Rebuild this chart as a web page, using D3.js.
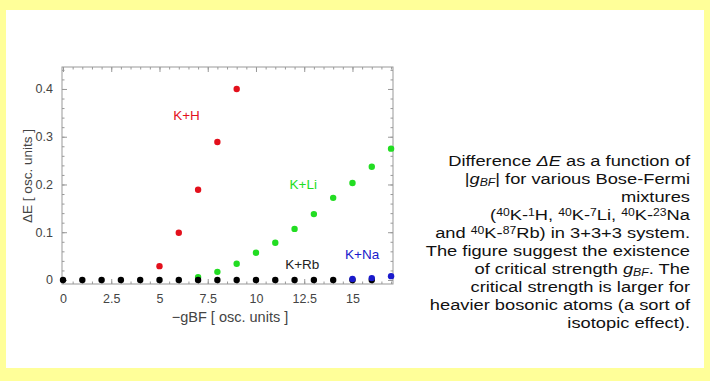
<!DOCTYPE html>
<html>
<head>
<meta charset="utf-8">
<script src="https://cdn.jsdelivr.net/npm/d3@7"></script>
<style>
  body { margin: 0; background: #ffff99; }
  svg { display: block; font-family: "Liberation Sans", Arial, sans-serif; }
  .tick text { fill: #444; font-size: 12.5px; }
  .tick line { stroke: #999; }
</style>
</head>
<body>
<div id="chart"></div>
<script>
// values
var gH  = [5, 6, 7, 8, 9];
var dH  = [0.029, 0.099, 0.189, 0.289, 0.400];
var gLi = [7, 8, 9, 10, 11, 12, 13, 14, 15, 16, 17];
var dLi = [0.006, 0.017, 0.034, 0.057, 0.078, 0.107, 0.138, 0.172, 0.203, 0.237, 0.275];
var gRb = [0, 1, 2, 3, 4, 5, 6, 7, 8, 9, 10, 11, 12, 13, 14, 15, 16];
var dRb = [0, 0, 0, 0, 0, 0, 0, 0, 0, 0, 0, 0, 0, 0, 0, 0, 0];
var gNa = [15, 16, 17];
var dNa = [0.002, 0.004, 0.008];

var xTicks = [0, 2.5, 5, 7.5, 10, 12.5, 15];
var yTicks = [0, 0.1, 0.2, 0.3, 0.4];

var svgWidth = 710, svgHeight = 381;
var frame = { left: 62, right: 393, top: 67, bottom: 284 };

var svg = d3.select("#chart").append("svg")
  .attr("width", svgWidth)
  .attr("height", svgHeight);

// white card inside the yellow border
svg.append("rect")
  .attr("x", 6).attr("y", 10)
  .attr("width", 698).attr("height", 358)
  .attr("fill", "#fff");

var x = d3.scaleLinear().domain([-0.052, 17.1]).range([frame.left, frame.right]);
var y = d3.scaleLinear().domain([-0.0084, 0.446]).range([frame.bottom, frame.top]);

var minorX = d3.range(0, 17.1, 0.5);
var minorY = d3.range(0, 0.441, 0.02);

function axisGroup(axis, tr) {
  var g = svg.append("g").attr("transform", tr).call(axis);
  g.select(".domain").remove();
  return g;
}

// major ticks with labels (pointing inward)
axisGroup(d3.axisBottom(x).tickValues(xTicks).tickSize(-5).tickPadding(10)
  .tickFormat(d3.format("")), `translate(0,${frame.bottom})`);
axisGroup(d3.axisLeft(y).tickValues(yTicks).tickSize(-5).tickPadding(9)
  .tickFormat(d => d === 0 ? "0" : d3.format(".1f")(d)), `translate(${frame.left},0)`);
// top / right major ticks, no labels
axisGroup(d3.axisTop(x).tickValues(xTicks).tickSize(-5).tickFormat(""), `translate(0,${frame.top})`);
axisGroup(d3.axisRight(y).tickValues(yTicks).tickSize(-5).tickFormat(""), `translate(${frame.right},0)`);
// minor ticks
axisGroup(d3.axisBottom(x).tickValues(minorX).tickSize(-2.5).tickFormat(""), `translate(0,${frame.bottom})`);
axisGroup(d3.axisTop(x).tickValues(minorX).tickSize(-2.5).tickFormat(""), `translate(0,${frame.top})`);
axisGroup(d3.axisLeft(y).tickValues(minorY).tickSize(-2.5).tickFormat(""), `translate(${frame.left},0)`);
axisGroup(d3.axisRight(y).tickValues(minorY).tickSize(-2.5).tickFormat(""), `translate(${frame.right},0)`);

svg.append("rect")
  .attr("x", frame.left).attr("y", frame.top)
  .attr("width", frame.right - frame.left)
  .attr("height", frame.bottom - frame.top)
  .attr("fill", "none")
  .attr("stroke", "#999")
  .attr("stroke-width", 1);

function drawSeries(gs, ds, color) {
  svg.append("g").selectAll("circle")
    .data(gs)
    .enter()
    .append("circle")
    .attr("cx", d => x(d))
    .attr("cy", (d, i) => y(ds[i]))
    .attr("r", 3.2)
    .attr("fill", color);
}

drawSeries(gH, dH, "#e3101c");
drawSeries(gLi, dLi, "#22dd22");
drawSeries(gRb, dRb, "#000");
drawSeries(gNa, dNa, "#1a1acc");

// series labels
var labels = [
  { t: "K+H",  x: 6.4,  y: 0.335, c: "#e3101c" },
  { t: "K+Li", x: 12.45, y: 0.19, c: "#22dd22" },
  { t: "K+Rb", x: 12.4, y: 0.023, c: "#222" },
  { t: "K+Na", x: 15.5, y: 0.043, c: "#1a1acc" }
];
svg.append("g").selectAll("text")
  .data(labels)
  .enter()
  .append("text")
  .attr("x", d => x(d.x))
  .attr("y", d => y(d.y))
  .attr("text-anchor", "middle")
  .attr("font-size", 13.5)
  .attr("fill", d => d.c)
  .text(d => d.t);

// axis titles
svg.append("text")
  .attr("x", 230).attr("y", 322)
  .attr("text-anchor", "middle")
  .attr("font-size", 14.5)
  .attr("fill", "#444")
  .text("\u2212gBF [ osc. units ]");

svg.append("text")
  .attr("transform", "translate(32,176) rotate(-90)")
  .attr("text-anchor", "middle")
  .attr("font-size", 13.5)
  .attr("fill", "#444")
  .text("\u0394E [ osc. units ]");

// caption on the right (the reference text is drawn wide)
var caption = svg.append("text")
  .attr("transform", "translate(690,0) scale(1.22,1)")
  .attr("text-anchor", "end")
  .attr("font-size", 15)
  .attr("fill", "#111");

var capY0 = 166, capDy = 18;
var lines = [
  [["Difference "], ["\u0394E", "i"], [" as a function of"]],
  [["|"], ["g", "i"], ["BF", "isub"], ["| for various Bose-Fermi"]],
  [["mixtures"]],
  [["("], ["40", "sup"], ["K-"], ["1", "sup"], ["H, "], ["40", "sup"], ["K-"], ["7", "sup"], ["Li, "],
   ["40", "sup"], ["K-"], ["23", "sup"], ["Na"]],
  [["and "], ["40", "sup"], ["K-"], ["87", "sup"], ["Rb) in 3+3+3 system."]],
  [["The figure suggest the existence"]],
  [["of critical strength "], ["g", "i"], ["BF", "isub"], [". The"]],
  [["critical strength is larger for"]],
  [["heavier bosonic atoms (a sort of"]],
  [["isotopic effect)."]]
];

lines.forEach(function (parts, li) {
  var line = caption.append("tspan")
    .attr("x", 0)
    .attr("y", capY0 + li * capDy);
  parts.forEach(function (p) {
    var s = line.append("tspan").text(p[0]);
    if (p[1] === "i") s.attr("font-style", "italic");
    if (p[1] === "sup") s.attr("font-size", 10).attr("baseline-shift", "4");
    if (p[1] === "isub") s.attr("font-style", "italic").attr("font-size", 10).attr("baseline-shift", "-2");
  });
});
</script>
</body>
</html>
